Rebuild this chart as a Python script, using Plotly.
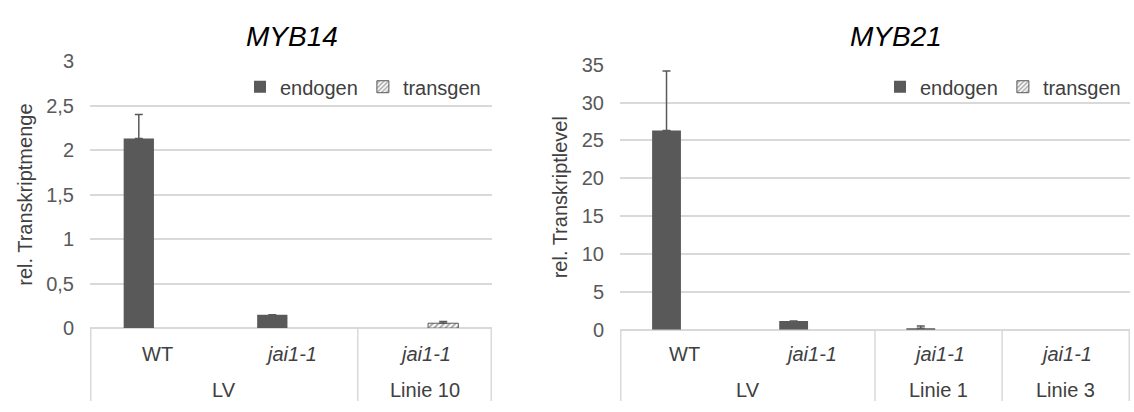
import plotly.graph_objects as go

# Expression data (relative transcript levels), grouped by line/construct.
# None marks a value without a bar (not detected / not applicable);
# None in an error list means no error bar for that bar.
myb14_groups = ["LV", "LV", "Linie 10"]
myb14_lines = ["WT", "jai1-1", "jai1-1"]
myb14_endogen = [2.13, 0.15, None]
myb14_endogen_err = [0.27, None, None]
myb14_transgen = [None, None, 0.055]
myb14_transgen_err = [None, None, 0.02]

myb21_groups = ["LV", "LV", "Linie 1", "Linie 3"]
myb21_lines = ["WT", "jai1-1", "jai1-1", "jai1-1"]
myb21_endogen = [26.3, 1.15, 0.2, None]
myb21_endogen_err = [7.85, None, 0.3, None]
myb21_transgen = [None, None, None, None]
myb21_transgen_err = [None, None, None, None]

W, H = 1134, 412
FONT = "Liberation Sans, Arial, sans-serif"
DARK = "#595959"
TEXT = "#404040"
GRID = "#d9d9d9"


def px_x(p):
    return p / W


def px_y(p):
    return 1 - p / H


def upper_only(err):
    # error bars point upward only; the lower whisker is suppressed
    return dict(type="data", array=err, symmetric=False,
                arrayminus=[None if e is None else 0 for e in err],
                color=DARK, thickness=1.5, width=4)


fig = go.Figure()

panels = [
    dict(name="MYB14", groups=myb14_groups, lines=myb14_lines,
         endo=myb14_endogen, endo_err=myb14_endogen_err,
         trans=myb14_transgen, trans_err=myb14_transgen_err,
         xa="x", ya="y", legend="legend",
         xdom=(px_x(90), px_x(492)), ydom=(px_y(335), px_y(53)),
         yrange=[0, 3], dtick=0.5, ytitle="rel. Transkriptmenge",
         title_x=px_x(292), leg_x=px_x(240), leg_y=px_y(80)),
    dict(name="MYB21", groups=myb21_groups, lines=myb21_lines,
         endo=myb21_endogen, endo_err=myb21_endogen_err,
         trans=myb21_transgen, trans_err=myb21_transgen_err,
         xa="x2", ya="y2", legend="legend2",
         xdom=(px_x(620), px_x(1130)), ydom=(px_y(336.7), px_y(56.7)),
         yrange=[0, 35], dtick=5, ytitle="rel. Transkriptlevel",
         title_x=px_x(896), leg_x=px_x(880), leg_y=px_y(80)),
]

for i, p in enumerate(panels):
    keys = [f"{g} {l}" for g, l in zip(p["groups"], p["lines"])]
    fig.add_trace(go.Bar(
        x=keys, y=p["endo"], name="endogen", xaxis=p["xa"], yaxis=p["ya"],
        legend=p["legend"],
        marker=dict(color=DARK, line=dict(width=0)),
        error_y=upper_only(p["endo_err"]),
    ))
    fig.add_trace(go.Bar(
        x=keys, y=p["trans"], name="transgen", xaxis=p["xa"], yaxis=p["ya"],
        legend=p["legend"],
        marker=dict(color="white", line=dict(color=DARK, width=1),
                    pattern=dict(shape="/", fgcolor=DARK, bgcolor="white",
                                 size=4, solidity=0.5)),
        error_y=upper_only(p["trans_err"]),
    ))

    sfx = "" if i == 0 else "2"
    fig.layout["xaxis" + sfx] = dict(
        domain=list(p["xdom"]), anchor="y" + sfx, type="category",
        categoryorder="array", categoryarray=keys,
        showticklabels=False, ticks="", showgrid=False, zeroline=False,
        showline=False, fixedrange=True,
    )
    fig.layout["yaxis" + sfx] = dict(
        domain=list(p["ydom"]), anchor="x" + sfx, range=p["yrange"],
        dtick=p["dtick"], showgrid=True, gridcolor=GRID, gridwidth=1.5,
        zeroline=True, zerolinecolor=GRID, zerolinewidth=1.5,
        showline=False, ticks="", ticklabelstandoff=15,
        tickfont=dict(family=FONT, size=20, color=DARK),
        title=dict(text=p["ytitle"], standoff=8,
                   font=dict(family=FONT, size=20, color=TEXT)),
        fixedrange=True,
    )

    # chart title
    fig.add_annotation(
        text=f"<i>{p['name']}</i>", xref="paper", yref="paper",
        x=p["title_x"], y=px_y(27),
        showarrow=False, xanchor="center", yanchor="middle",
        font=dict(family=FONT, size=28, color="black"),
    )

    # category table below the plot: line labels and group labels
    bottom = p["ydom"][0]
    xr, yr = p["xa"], "paper"
    for k, line in enumerate(p["lines"]):
        label = line if line == "WT" else f"<i>{line}</i>"
        fig.add_annotation(text=label, xref=xr, yref=yr, x=k, y=px_y(362),
                           showarrow=False, yanchor="middle",
                           font=dict(family=FONT, size=20, color=TEXT))

    # contiguous runs of the same group
    runs = []
    for k, g in enumerate(p["groups"]):
        if runs and runs[-1][0] == g:
            runs[-1][2] = k
        else:
            runs.append([g, k, k])
    edges = [-0.5]
    for g, a, b in runs:
        fig.add_annotation(text=g, xref=xr, yref=yr, x=(a + b) / 2,
                           y=px_y(400), showarrow=False, yanchor="middle",
                           font=dict(family=FONT, size=20, color=TEXT))
        edges.append(b + 0.5)
    for e in edges:
        fig.add_shape(type="line", xref=xr, yref=yr, x0=e, x1=e,
                      y0=0, y1=bottom, line=dict(color=GRID, width=1.5))

legend_style = dict(orientation="h", xanchor="left", yanchor="middle",
                    bgcolor="rgba(0,0,0,0)", itemwidth=30, tracegroupgap=0,
                    font=dict(family=FONT, size=20, color=TEXT))

fig.update_layout(
    width=W, height=H, margin=dict(l=0, r=0, t=0, b=0),
    paper_bgcolor="white", plot_bgcolor="white",
    barmode="group", bargap=0.44, bargroupgap=0.19,
    separators=",.",
    showlegend=True,
    legend=dict(x=panels[0]["leg_x"], y=panels[0]["leg_y"], **legend_style),
    legend2=dict(x=panels[1]["leg_x"], y=panels[1]["leg_y"], **legend_style),
    font=dict(family=FONT),
)

fig.write_html("out.html")
